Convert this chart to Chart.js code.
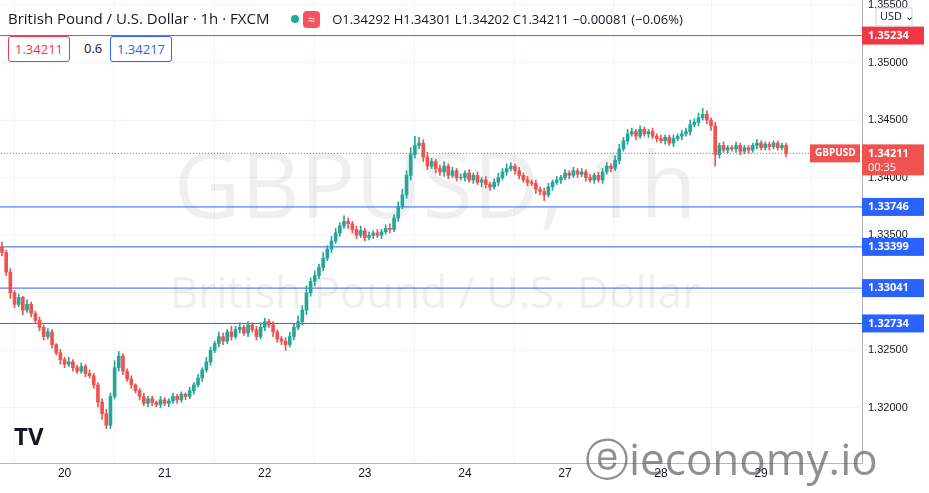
<!DOCTYPE html>
<html><head><meta charset="utf-8">
<script src="https://cdn.jsdelivr.net/npm/chart.js@4"></script>
<style>
body{margin:0;background:#fff;font-family:"Open Sans",Roboto,sans-serif}
#wrap{position:relative;width:929px;height:493px}
#hdr{position:absolute;left:8px;top:8px;font-size:15px;color:#131722;white-space:nowrap}
#hdr .o{font-size:13px;margin-left:12px}
#hdr .g{display:inline-block;width:8px;height:8px;border-radius:4px;background:#26a69a;margin:0 4px 1px 18px}
#hdr .w{display:inline-block;background:#f7525f;color:#fff;border-radius:4px;padding:0 5px;font-size:12px}
.bx{position:absolute;top:36px;height:24px;line-height:24px;font-size:13px;padding:0 6px;border-radius:3px;background:#fff}
</style></head><body>
<div id="wrap">
<canvas id="c" width="929" height="493"></canvas>
<div id="hdr">British Pound / U.S. Dollar · 1h · FXCM <span class="g"></span><span class="w">≈</span><span class="o">O1.34292 H1.34301 L1.34202 C1.34211 −0.00081 (−0.06%)</span></div>
<div class="bx" style="left:8px;border:1px solid #f23645;color:#f23645">1.34211</div>
<div class="bx" style="left:80px;color:#131722;padding:0 4px">0.6</div>
<div class="bx" style="left:110px;border:1px solid #2962ff;color:#2962ff">1.34217</div>
</div>
<script>
const dayIndex = [15, 39, 63, 87, 111, 135, 158, 182];
const dayLabels = ["20", "21", "22", "23", "24", "27", "28", "29"];
const firstOpen = 1.3340;
const closes = [
1.3335,1.3318,1.3300,1.3290,1.3296,1.3285,1.3290,1.3282,1.3276,1.3270,
1.3262,1.3266,1.3255,1.3248,1.3242,1.3238,1.3240,1.3235,1.3232,1.3236,
1.3230,1.3228,1.3220,1.3205,1.3195,1.3185,1.3210,1.3235,1.3245,1.3232,
1.3225,1.3220,1.3215,1.3210,1.3204,1.3208,1.3205,1.3203,1.3207,1.3204,
1.3206,1.3210,1.3207,1.3212,1.3210,1.3215,1.3220,1.3226,1.3233,1.3240,
1.3250,1.3256,1.3262,1.3258,1.3266,1.3262,1.3268,1.3270,1.3265,1.3272,
1.3268,1.3262,1.3270,1.3275,1.3272,1.3266,1.3260,1.3258,1.3255,1.3262,
1.3270,1.3275,1.3285,1.3300,1.3310,1.3315,1.3322,1.3330,1.3338,1.3345,
1.3352,1.3358,1.3362,1.3360,1.3355,1.3350,1.3354,1.3348,1.3350,1.3352,
1.3350,1.3353,1.3356,1.3355,1.3365,1.3375,1.3385,1.3402,1.3420,1.3428,
1.3430,1.3418,1.3410,1.3414,1.3408,1.3405,1.3410,1.3402,1.3406,1.3400,
1.3400,1.3404,1.3398,1.3402,1.3396,1.3398,1.3394,1.3392,1.3396,1.3400,
1.3405,1.3408,1.3410,1.3406,1.3402,1.3398,1.3396,1.3395,1.3390,1.3388,
1.3385,1.3392,1.3396,1.3398,1.3400,1.3404,1.3402,1.3406,1.3403,1.3405,
1.3400,1.3398,1.3402,1.3398,1.3405,1.3410,1.3408,1.3415,1.3425,1.3432,
1.3438,1.3440,1.3436,1.3442,1.3438,1.3440,1.3436,1.3434,1.3432,1.3435,
1.3430,1.3434,1.3436,1.3438,1.3440,1.3446,1.3448,1.3452,1.3455,1.3450,
1.3445,1.3420,1.3428,1.3424,1.3426,1.3425,1.3428,1.3423,1.3426,1.3424,
1.3428,1.3430,1.3426,1.3429,1.3427,1.3430,1.3426,1.3428,1.3421];
// wick extensions in pips above max(open,close) / below min(open,close)
const wickUp = [
4,2,3,2,3,1,4,2,2,3, 2,3,2,1,3,2,4,2,2,3, 2,3,2,2,3,4,3,6,4,2,
2,3,1,2,3,2,2,1,3,2, 2,3,2,2,1,3,2,3,2,4, 3,2,4,3,2,5,3,4,2,3,
2,3,4,3,2,3,2,2,3,4, 3,5,4,6,3,4,3,5,3,4, 4,3,5,3,2,3,4,2,3,2,
3,2,3,4,3,4,5,4,6,8, 5,3,4,3,2,3,4,2,3,2, 3,2,3,2,3,2,3,2,3,4,
3,4,3,2,3,2,3,2,3,2, 3,3,2,3,2,3,2,3,2,3, 2,3,2,3,3,3,2,4,4,3,
4,3,2,3,2,2,3,2,3,2, 2,3,2,3,3,4,3,4,5,3, 2,3,2,3,2,2,3,2,2,2,
2,3,2,2,2,2,2,2,2];
const wickDn = [
3,3,5,3,2,4,2,3,2,3, 3,2,3,2,4,3,2,3,2,2, 3,2,3,4,5,3,3,2,3,3,
2,3,2,3,2,3,3,2,3,2, 3,2,3,2,3,2,3,2,3,2, 3,2,3,3,2,3,2,3,2,3,
2,3,2,3,2,4,3,3,5,2, 3,2,3,4,3,4,3,3,2,3, 2,3,2,4,3,3,2,3,2,3,
2,3,2,3,2,3,2,3,4,3, 3,4,3,2,4,3,4,3,2,3, 2,3,2,3,2,4,3,3,2,3,
2,3,2,3,3,2,3,2,4,3, 5,2,3,2,3,2,3,2,3,2, 3,2,3,2,3,2,3,2,3,2,
3,2,3,2,2,3,2,3,2,3, 2,3,2,3,2,3,2,3,2,3, 4,10,3,2,3,2,3,3,2,3,
2,3,2,2,3,2,2,2,3];
const levels = [1.33746, 1.33399, 1.33041, 1.32734];
const resistance = 1.35234;
const lastPrice = 1.34211;

const UP = "#26a69a", DN = "#ef5350", PIP = 0.0001;
const bodies = [], wicks = [], bodyCol = [];
closes.forEach((c, i) => {
  const o = i ? closes[i - 1] : firstOpen;
  let lo = Math.min(o, c), hi = Math.max(o, c);
  if (hi - lo < 0.00003) hi = lo + 0.00003;
  bodies.push({ x: i, y: [lo, hi] });
  wicks.push({ x: i, y: [lo - wickDn[i] * PIP, hi + wickUp[i] * PIP] });
  bodyCol.push(c >= o ? UP : DN);
});
const hline = (v, col, dash) => ({
  type: "line", data: [{ x: -1, y: v }, { x: 207, y: v }], borderColor: col,
  borderWidth: 1, borderDash: dash || [], pointRadius: 0, order: 5
});

const overlay = {
  id: "overlay",
  beforeDatasetsDraw(ch) {
    const g = ch.ctx; g.save();
    g.fillStyle = "rgba(120,123,134,0.12)"; g.textAlign = "center";
    g.font = "92px 'Open Sans'"; g.fillText("GBPUSD, 1h", 435, 218);
    g.font = "44px 'Open Sans'"; g.fillText("British Pound / U.S. Dollar", 435, 308);
    g.restore();
  },
  afterDraw(ch) {
    const g = ch.ctx, y = ch.scales.y, X = ch.chartArea.right;
    g.save(); g.font = "bold 11px 'Open Sans'"; g.textBaseline = "middle";
    const box = (v, col, txt) => {
      const py = y.getPixelForValue(v);
      g.fillStyle = col; g.fillRect(X, py - 9, 62, 18);
      g.fillStyle = "#fff"; g.fillText(txt, X + 6, py);
    };
    levels.forEach(v => box(v, "#2962ff", v.toFixed(5)));
    box(resistance, "#f23645", resistance.toFixed(5));
    const py = y.getPixelForValue(lastPrice);
    g.fillStyle = DN; g.fillRect(X, py - 9, 62, 31); g.fillRect(810, py - 9, 50, 18);
    g.fillStyle = "#fff"; g.fillText(lastPrice.toFixed(5), X + 6, py);
    g.font = "11px 'Open Sans'"; g.fillText("00:35", X + 6, py + 14);
    g.font = "bold 10px 'Open Sans'"; g.fillText("GBPUSD", 815, py);
    // USD box
    g.fillStyle = "#fff"; g.fillRect(876, 8, 36, 18);
    g.strokeStyle = "#d1d4dc"; g.strokeRect(876, 8, 36, 18);
    g.fillStyle = "#131722"; g.font = "11px 'Open Sans'"; g.fillText("USD ⌄", 880, 17);
    // logos
    g.font = "bold 24px 'Open Sans'"; g.fillText("TV", 14, 438);
    g.fillStyle = "rgba(70,70,70,0.6)"; g.font = "44px 'Open Sans'";
    g.fillText("ⓔieconomy.io", 585, 462);
    g.restore();
  }
};

new Chart(document.getElementById("c"), {
  type: "bar",
  data: { datasets: [
    { data: wicks, backgroundColor: bodyCol, barThickness: 1, grouped: false, order: 2 },
    { data: bodies, backgroundColor: bodyCol, barThickness: 3, grouped: false, order: 1 },
    ...levels.map(v => hline(v, "#2962ff")),
    hline(resistance, "#f23645"),
    hline(lastPrice, "#f23645", [1, 2])
  ]},
  options: {
    responsive: false, animation: false,
    layout: { padding: 0 },
    plugins: { legend: { display: false }, tooltip: { enabled: false } },
    scales: {
      x: {
        type: "linear", min: -0.48, max: 206.2, offset: false,
        afterBuildTicks: s => { s.ticks = dayIndex.map(v => ({ value: v })); },
        afterFit: s => { s.height = 30; s.paddingLeft = 0; s.paddingRight = 0; },
        ticks: { callback: (v) => dayLabels[dayIndex.indexOf(v)], color: "#131722", font: { size: 12 }, maxRotation: 0 },
        grid: { color: "#f0f3fa", drawTicks: false },
        border: { color: "#b2b5be" }
      },
      y: {
        position: "right", min: 1.31522, max: 1.35543,
        afterBuildTicks: s => { s.ticks = [1.32, 1.325, 1.33, 1.335, 1.34, 1.345, 1.35, 1.355].map(v => ({ value: v })); },
        afterFit: s => { s.width = 67; s.paddingTop = 0; s.paddingBottom = 0; },
        ticks: { callback: v => v.toFixed(5), color: "#131722", font: { size: 11 }, padding: 6 },
        grid: { color: "#f0f3fa", drawTicks: false },
        border: { color: "#b2b5be" }
      }
    }
  },
  plugins: [overlay]
});
</script>
</body></html>
